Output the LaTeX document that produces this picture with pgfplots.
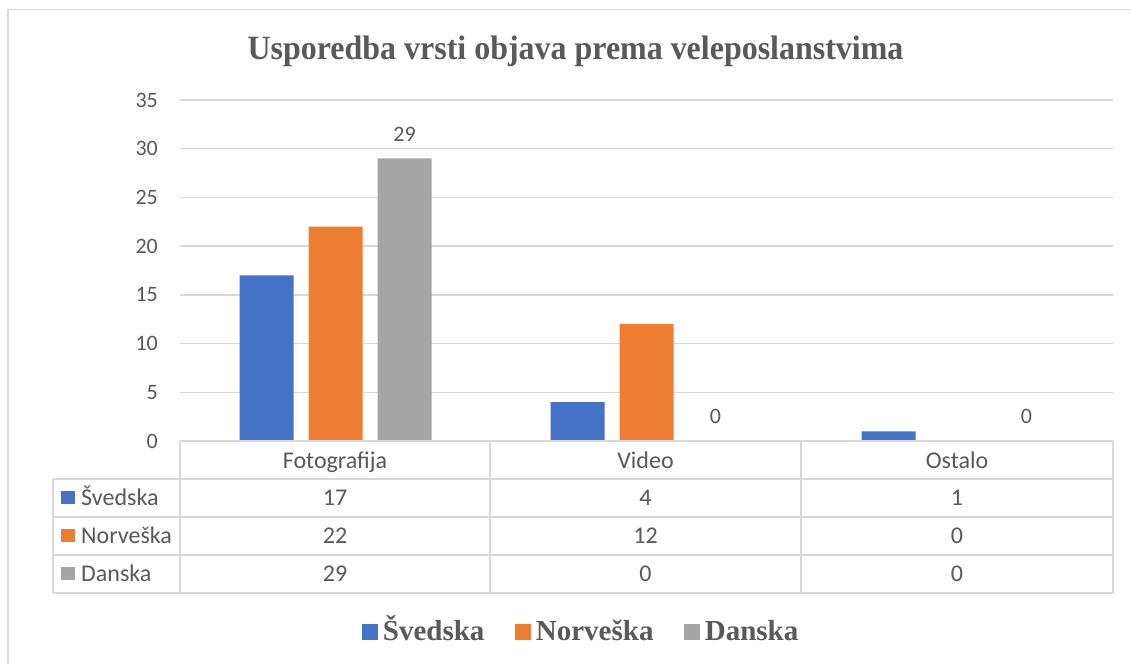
\documentclass[border=0pt]{standalone}
\usepackage{graphicx}
\usepackage{pgfplots}
\pgfplotsset{compat=1.18}
\usepackage{fontspec}
\setmainfont{Carlito}
\newfontfamily\serifb{Liberation Serif}
\definecolor{txt}{HTML}{595959}
\definecolor{grd}{HTML}{D9D9D9}
\definecolor{cA}{HTML}{4472C4}
\definecolor{cB}{HTML}{ED7D31}
\definecolor{cC}{HTML}{A5A5A5}
\begin{document}
\begin{tikzpicture}[x=1pt,y=1pt]
\useasboundingbox (0,0) rectangle (1131,664);
\fill[white] (0,0) rectangle (1131,664);
\draw[grd, line width=1.5pt] (8,0) -- (8,654.5) -- (1131,654.5);
\node[text=txt, font=\serifb\bfseries\fontsize{34}{40}\selectfont, anchor=base] at (575.5,604) {\scalebox{0.94}[1]{Usporedba vrsti objava prema veleposlanstvima}};
\begin{axis}[at={(180pt,223pt)}, anchor=south west, scale only axis,
  width=933pt, height=341pt,
  xmin=-0.5, xmax=2.5, ymin=0, ymax=35,
  ytick={0,5,...,35}, xtick=\empty,
  /pgf/number format/assume math mode=true,
  axis line style={draw=none}, major tick length=0pt,
  ymajorgrids, grid style={grd, line width=1.3pt},
  ybar, bar width=54pt, clip=false,
  yticklabel style={font=\fontsize{22}{26}\selectfont, text=txt, inner sep=0pt, xshift=-22pt},
  legend columns=3,
  legend style={at={(0.4287,-0.560)}, anchor=center, draw=none, fill=none,
    font=\serifb\bfseries\fontsize{29}{34}\selectfont, text=txt,
    /tikz/every even column/.append style={column sep=30pt},
    /tikz/every odd column/.append style={column sep=6pt},
    nodes={inner sep=0pt, text height=24pt, text depth=7pt}},
]
\addplot[fill=cA, draw=none, bar shift=-69pt, forget plot] coordinates {(0,17) (1,4) (2,1)};
\addplot[fill=cB, draw=none, bar shift=0pt, forget plot] coordinates {(0,22) (1,12) (2,0)};
\addplot[fill=cC, draw=none, bar shift=69pt, forget plot, nodes near coords,
  every node near coord/.append style={font=\fontsize{22}{26}\selectfont, text=txt, anchor=south, inner sep=0pt, yshift=17pt}]
  coordinates {(0,29) (1,0) (2,0)};
\addlegendimage{legend image code/.code={\fill[cA] (0pt,-7pt) rectangle (15pt,8pt);}}
\addlegendentry{Švedska}
\addlegendimage{legend image code/.code={\fill[cB] (0pt,-7pt) rectangle (15pt,8pt);}}
\addlegendentry{Norveška}
\addlegendimage{legend image code/.code={\fill[cC] (0pt,-7pt) rectangle (15pt,8pt);}}
\addlegendentry{Danska}
\end{axis}
% data table
\begin{scope}[grd, line width=1.5pt]
\draw (180,223) -- (1113,223);
\foreach \yy in {185,147,109,71} \draw (53,\yy) -- (1113,\yy);
\foreach \xx in {180,490,801,1113} \draw (\xx,223) -- (\xx,71);
\draw (53,185) -- (53,71);
\end{scope}
\begin{scope}[every node/.style={text=txt, font=\fontsize{24}{28}\selectfont, anchor=base, inner sep=0pt}]
\node at (335,196) {Fotografija};
\node at (645.5,196) {Video};
\node at (957,196) {Ostalo};
\node at (335,159) {17}; \node at (645.5,159) {4}; \node at (957,159) {1};
\node at (335,121) {22}; \node at (645.5,121) {12}; \node at (957,121) {0};
\node at (335,83) {29}; \node at (645.5,83) {0}; \node at (957,83) {0};
\node[anchor=base west] at (81,159) {Švedska};
\node[anchor=base west] at (81,121) {Norveška};
\node[anchor=base west] at (81,83) {Danska};
\end{scope}
\fill[cA] (61,160) rectangle (75,173);
\fill[cB] (61,122) rectangle (75,135);
\fill[cC] (61,84) rectangle (75,97);
\end{tikzpicture}
\end{document}
